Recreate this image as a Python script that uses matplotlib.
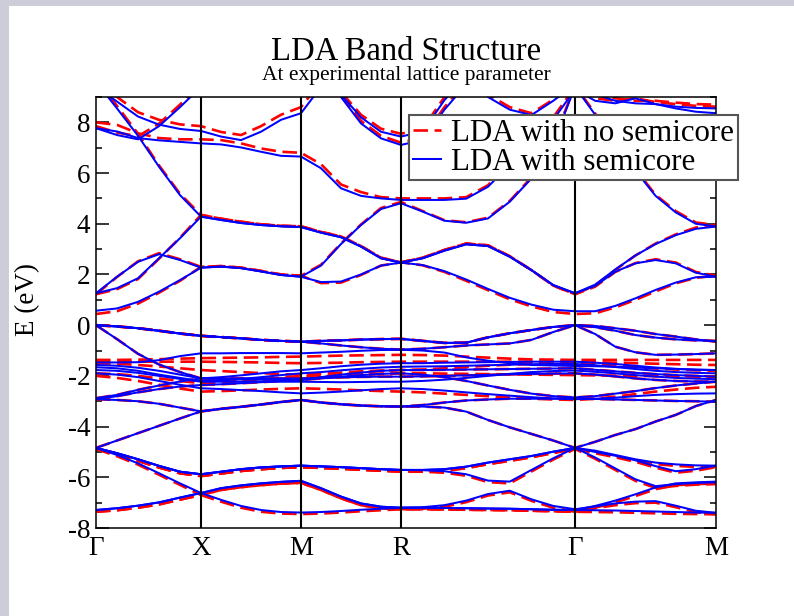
import numpy as np
import matplotlib.pyplot as plt
from matplotlib.lines import Line2D
from matplotlib.patches import Rectangle
from matplotlib.ticker import MultipleLocator

plt.rcParams['font.family'] = ['Liberation Serif', 'DejaVu Serif']
plt.rcParams['axes.unicode_minus'] = False

nan = np.nan

# k-path: high-symmetry points and number of steps on each segment
sym_labels = ['Γ', 'X', 'M', 'R', 'Γ', 'M']
sym_pos = [0.0, 0.52, 1.015, 1.51, 2.372, 3.07]
seg_steps = [5, 5, 5, 8, 7]

# ---- LDA with semicore (eV) ----
sc_v1 = [-7.29, -7.22, -7.12, -6.99, -6.80, -6.62,
         -6.89, -7.13, -7.29, -7.37, -7.39,
         -7.37, -7.33, -7.28, -7.24, -7.20,
         -7.20, -7.21, -7.22, -7.23, -7.24, -7.26, -7.28, -7.29,
         -7.30, -7.31, -7.33, -7.35, -7.37, -7.39, -7.40]
sc_v2 = [-4.84, -5.12, -5.45, -5.84, -6.24, -6.62,
         -6.43, -6.32, -6.24, -6.18, -6.14,
         -6.43, -6.76, -7.03, -7.16, -7.20,
         -7.18, -7.10, -6.92, -6.66, -6.53, -6.87, -7.13, -7.26,
         -7.15, -7.03, -6.96, -6.94, -7.12, -7.32, -7.40]
sc_v3 = [-7.29, -7.22, -7.12, -6.99, -6.80, -6.62,
         -6.43, -6.32, -6.24, -6.18, -6.14,
         -6.43, -6.76, -7.03, -7.16, -7.20,
         -7.20, -7.21, -7.22, -7.23, -7.24, -7.26, -7.28, -7.29,
         -7.13, -6.92, -6.67, -6.40, -6.24, -6.20, -6.17]
sc_v4 = [-4.84, -5.05, -5.29, -5.55, -5.78, -5.88,
         -5.78, -5.68, -5.61, -5.57, -5.54,
         -5.57, -5.60, -5.64, -5.68, -5.71,
         -5.72, -5.76, -5.88, -6.13, -6.17, -5.71, -5.25, -4.84,
         -5.22, -5.65, -6.08, -6.35, -6.27, -6.22, -6.20]
sc_v5 = [-4.84, -5.05, -5.29, -5.55, -5.78, -5.88,
         -5.78, -5.68, -5.61, -5.57, -5.54,
         -5.57, -5.60, -5.64, -5.68, -5.71,
         -5.71, -5.68, -5.58, -5.42, -5.29, -5.16, -4.99, -4.84,
         -5.00, -5.15, -5.33, -5.56, -5.76, -5.68, -5.54]
sc_v6 = [-4.84, -5.05, -5.29, -5.55, -5.78, -5.88,
         -5.78, -5.68, -5.61, -5.57, -5.54,
         -5.57, -5.60, -5.64, -5.68, -5.71,
         -5.71, -5.68, -5.58, -5.42, -5.29, -5.16, -4.99, -4.84,
         -4.95, -5.12, -5.29, -5.42, -5.49, -5.53, -5.54]
sc_v7 = [-4.84, -4.55, -4.26, -3.97, -3.68, -3.40,
         -3.30, -3.22, -3.13, -3.03, -2.95,
         -3.05, -3.12, -3.17, -3.20, -3.21,
         -3.21, -3.25, -3.41, -3.74, -4.03, -4.29, -4.55, -4.84,
         -4.60, -4.33, -4.10, -3.80, -3.54, -3.19, -2.95]

sc_d1 = [-1.47, -1.47, -1.46, -1.38, -1.22, -1.11,
         -1.11, -1.10, -1.10, -1.10, -1.11,
         -1.08, -1.05, -1.01, -0.98, -0.97,
         -1.00, -1.08, -1.27, -1.40, -1.50, -1.57, -1.59, -1.61,
         -1.62, -1.64, -1.67, -1.70, -1.73, -1.75, -1.77]
sc_d2 = [-1.57, -1.60, -1.68, -1.80, -1.95, -2.10,
         -2.05, -1.98, -1.90, -1.82, -1.77,
         -1.70, -1.62, -1.56, -1.52, -1.50,
         -1.50, -1.48, -1.47, -1.46, -1.45, -1.44, -1.44, -1.44,
         -1.48, -1.53, -1.60, -1.67, -1.72, -1.76, -1.77]
sc_d3 = [-1.66, -1.70, -1.80, -1.95, -2.08, -2.20,
         -2.18, -2.12, -2.05, -1.97, -1.90,
         -1.85, -1.78, -1.72, -1.67, -1.64,
         -1.63, -1.62, -1.60, -1.58, -1.56, -1.54, -1.53, -1.53,
         -1.58, -1.65, -1.73, -1.80, -1.85, -1.88, -1.90]
sc_d4 = [-1.77, -1.80, -1.88, -2.00, -2.12, -2.23,
         -2.23, -2.23, -2.23, -2.23, -2.23,
         -2.24, -2.25, -2.24, -2.23, -2.23,
         -2.20, -2.15, -2.08, -2.00, -1.92, -1.85, -1.81, -1.79,
         -1.84, -1.90, -1.97, -2.03, -2.08, -2.11, -2.13]
sc_d5 = [-1.90, -1.95, -2.05, -2.20, -2.35, -2.49,
         -2.52, -2.56, -2.60, -2.65, -2.69,
         -2.66, -2.62, -2.57, -2.52, -2.49,
         -2.52, -2.58, -2.65, -2.72, -2.78, -2.84, -2.89, -2.92,
         -2.90, -2.86, -2.80, -2.75, -2.72, -2.70, -2.69]
sc_d6 = [-2.88, -2.75, -2.55, -2.38, -2.22, -2.10,
         -2.12, -2.14, -2.15, -2.16, -2.16,
         -2.05, -1.95, -1.87, -1.80, -1.77,
         -1.77, -1.76, -1.75, -1.74, -1.73, -1.72, -1.71, -1.70,
         -1.76, -1.82, -1.88, -1.93, -1.97, -2.00, -2.03]
sc_d7 = [-2.92, -2.80, -2.65, -2.52, -2.42, -2.36,
         -2.33, -2.29, -2.25, -2.20, -2.16,
         -2.10, -2.03, -1.97, -1.92, -1.90,
         -1.95, -2.05, -2.20, -2.38, -2.55, -2.70, -2.80, -2.85,
         -2.80, -2.70, -2.60, -2.48, -2.38, -2.30, -2.23]
sc_d8 = [-2.92, -2.95, -3.00, -3.10, -3.25, -3.40,
         -3.30, -3.22, -3.13, -3.03, -2.95,
         -3.05, -3.12, -3.17, -3.20, -3.21,
         -3.15, -3.05, -2.97, -2.93, -2.90, -2.90, -2.90, -2.90,
         -2.91, -2.93, -2.95, -2.97, -2.99, -3.00, -3.02]

sc_t1 = [0.00, -0.05, -0.12, -0.22, -0.33, -0.42,
         -0.47, -0.52, -0.58, -0.62, -0.65,
         -0.62, -0.60, -0.57, -0.55, -0.54,
         -0.62, -0.70, -0.69, -0.48, -0.32, -0.19, -0.07, 0.00,
         -0.03, -0.12, -0.22, -0.35, -0.45, -0.56, -0.65]
sc_t2 = [0.00, -0.55, -1.13, -1.55, -1.85, -2.10,
         -2.10, -2.10, -2.10, -2.10, -2.10,
         -2.08, -2.06, -2.04, -2.03, -2.03,
         -2.02, -2.00, -1.98, -1.96, -1.94, -1.92, -1.91, -1.90,
         -1.95, -2.02, -2.10, -2.16, -2.20, -2.22, -2.23]
sc_t3 = [0.00, -0.05, -0.12, -0.22, -0.33, -0.42,
         -0.47, -0.52, -0.58, -0.62, -0.65,
         -0.72, -0.80, -0.87, -0.93, -0.96,
         -0.93, -0.87, -0.80, -0.76, -0.72, -0.58, -0.27, 0.00,
         -0.08, -0.22, -0.39, -0.49, -0.56, -0.60, -0.62]
sc_t4 = [0.00, -0.05, -0.12, -0.22, -0.33, -0.42,
         -0.47, -0.52, -0.58, -0.62, -0.65,
         -0.62, -0.60, -0.57, -0.55, -0.54,
         -0.62, -0.70, -0.69, -0.48, -0.32, -0.19, -0.07, 0.00,
         -0.35, -0.85, -1.07, -1.17, -1.16, -1.14, -1.11]

sc_c1 = [0.57, 0.66, 0.92, 1.32, 1.78, 2.27,
         2.31, 2.25, 2.12, 1.98, 1.91,
         1.70, 1.72, 2.00, 2.35, 2.47,
         2.37, 2.13, 1.80, 1.43, 1.08, 0.81, 0.61, 0.55,
         0.55, 0.76, 1.06, 1.39, 1.68, 1.89, 1.91]
sc_c2 = [1.26, 1.91, 2.50, 2.80, 2.57, 2.27,
         2.31, 2.25, 2.12, 1.98, 1.91,
         2.35, 3.20, 3.95, 4.58, 4.81,
         4.48, 4.12, 4.04, 4.21, 4.87, 5.79, 7.20, 9.40,
         8.30, 7.30, 6.10, 5.10, 4.45, 4.00, 3.89]
sc_c3 = [1.26, 1.46, 1.85, 2.64, 3.43, 4.28,
         4.15, 4.03, 3.95, 3.90, 3.87,
         3.65, 3.47, 3.10, 2.64, 2.47,
         2.64, 2.94, 3.19, 3.12, 2.70, 2.17, 1.58, 1.26,
         1.55, 2.11, 2.44, 2.57, 2.44, 2.07, 1.91]
sc_c4 = [9.60, 8.55, 7.47, 6.25, 5.13, 4.28,
         4.15, 4.03, 3.95, 3.90, 3.87,
         3.65, 3.47, 3.10, 2.64, 2.47,
         2.64, 2.94, 3.19, 3.12, 2.70, 2.17, 1.58, 1.26,
         1.60, 2.20, 2.75, 3.20, 3.55, 3.80, 3.89]
sc_c5 = [7.77, 7.64, 7.38, 7.29, 7.23, 7.17,
         7.13, 7.01, 6.84, 6.68, 6.65,
         6.19, 5.40, 5.10, 5.00, 4.94,
         4.94, 4.94, 4.99, 5.46, 6.32, 7.20, 8.10, 9.30,
         8.85, 8.75, 8.95, 8.72, 8.55, 8.42, 8.36]
sc_c6 = [7.77, 7.50, 7.33, 7.85, 8.60, 9.40] + [nan] * 25
sc_c7 = [9.40, 8.82, 8.23, 7.91, 7.74, 7.66,
         7.44, 7.30, 7.63, 8.10, 8.36, 9.40] + [nan] * 19
sc_c8 = [nan] * 11 + [10.5, 9.10, 8.20, 7.63, 7.44, 7.63, 8.88, 9.80] + [nan] * 12
sc_c9 = [nan] * 11 + [10.4, 9.00, 7.96, 7.37, 7.11, 7.30, 8.50, 9.50] + [nan] * 12
sc_c10 = [nan] * 18 + [9.80, 9.00, 8.50, 8.29, 8.85, 9.50,
                       9.10, 8.85, 8.75, 8.72, 8.62, 8.57, 8.55]

# ---- LDA without semicore (eV) ----
nsc_v1 = [-7.36, -7.30, -7.20, -7.07, -6.88, -6.70,
          -6.96, -7.20, -7.36, -7.43, -7.45,
          -7.43, -7.39, -7.34, -7.30, -7.26,
          -7.26, -7.27, -7.28, -7.29, -7.30, -7.32, -7.34, -7.36,
          -7.37, -7.38, -7.40, -7.42, -7.44, -7.45, -7.46]
nsc_v2 = [-4.88, -5.17, -5.50, -5.90, -6.30, -6.70,
          -6.50, -6.39, -6.31, -6.25, -6.22,
          -6.50, -6.83, -7.10, -7.22, -7.26,
          -7.24, -7.16, -6.98, -6.72, -6.59, -6.93, -7.20, -7.36,
          -7.22, -7.10, -7.02, -7.00, -7.18, -7.38, -7.46]
nsc_v3 = [-7.36, -7.30, -7.20, -7.07, -6.88, -6.70,
          -6.50, -6.39, -6.31, -6.25, -6.22,
          -6.50, -6.83, -7.10, -7.22, -7.26,
          -7.26, -7.27, -7.28, -7.29, -7.30, -7.32, -7.34, -7.36,
          -7.20, -6.99, -6.74, -6.47, -6.31, -6.27, -6.24]
nsc_v4 = [-4.88, -5.10, -5.35, -5.61, -5.84, -5.95,
          -5.85, -5.75, -5.68, -5.63, -5.60,
          -5.63, -5.66, -5.70, -5.74, -5.77,
          -5.78, -5.82, -5.94, -6.19, -6.24, -5.77, -5.30, -4.88,
          -5.27, -5.71, -6.14, -6.42, -6.34, -6.29, -6.27]
nsc_v5 = [-4.88, -5.10, -5.35, -5.61, -5.84, -5.95,
          -5.85, -5.75, -5.68, -5.63, -5.60,
          -5.63, -5.66, -5.70, -5.74, -5.77,
          -5.77, -5.74, -5.64, -5.48, -5.35, -5.21, -5.04, -4.88,
          -5.05, -5.21, -5.39, -5.62, -5.82, -5.74, -5.60]
nsc_v6 = [-4.88, -5.10, -5.35, -5.61, -5.84, -5.95,
          -5.85, -5.75, -5.68, -5.63, -5.60,
          -5.63, -5.66, -5.70, -5.74, -5.77,
          -5.77, -5.74, -5.64, -5.48, -5.35, -5.21, -5.04, -4.88,
          -4.99, -5.17, -5.35, -5.48, -5.55, -5.59, -5.60]

nsc_d1 = [-1.37, -1.37, -1.36, -1.34, -1.32, -1.30,
          -1.29, -1.28, -1.27, -1.25, -1.24,
          -1.22, -1.20, -1.19, -1.18, -1.17,
          -1.18, -1.20, -1.24, -1.28, -1.32, -1.35, -1.36, -1.37,
          -1.37, -1.37, -1.37, -1.37, -1.37, -1.37, -1.37]
nsc_d2 = [-1.44, -1.44, -1.44, -1.44, -1.44, -1.44,
          -1.45, -1.46, -1.47, -1.49, -1.50,
          -1.49, -1.48, -1.46, -1.45, -1.44,
          -1.44, -1.44, -1.44, -1.44, -1.44, -1.44, -1.44, -1.44,
          -1.46, -1.48, -1.50, -1.52, -1.54, -1.56, -1.57]
nsc_d3 = [-1.50, -1.52, -1.57, -1.63, -1.70, -1.77,
          -1.81, -1.85, -1.89, -1.93, -1.96,
          -1.92, -1.87, -1.82, -1.79, -1.77,
          -1.75, -1.70, -1.65, -1.60, -1.56, -1.53, -1.51, -1.50,
          -1.54, -1.60, -1.66, -1.71, -1.75, -1.78, -1.80]
nsc_d4 = [-1.90, -1.93, -2.00, -2.10, -2.20, -2.29,
          -2.25, -2.19, -2.13, -2.07, -2.03,
          -2.00, -1.97, -1.94, -1.92, -1.90,
          -1.90, -1.91, -1.92, -1.93, -1.94, -1.95, -1.96, -1.97,
          -1.98, -1.99, -2.00, -2.01, -2.02, -2.03, -2.03]
nsc_d5 = [-2.00, -2.08, -2.20, -2.35, -2.50, -2.62,
          -2.60, -2.57, -2.54, -2.51, -2.49,
          -2.51, -2.54, -2.57, -2.60, -2.62,
          -2.65, -2.70, -2.75, -2.80, -2.85, -2.90, -2.93, -2.95,
          -2.90, -2.82, -2.72, -2.62, -2.54, -2.47, -2.43]

nsc_c1 = [0.44, 0.55, 0.85, 1.28, 1.75, 2.30,
          2.33, 2.27, 2.14, 2.00, 1.95,
          1.66, 1.68, 1.98, 2.35, 2.48,
          2.36, 2.10, 1.75, 1.38, 1.02, 0.74, 0.52, 0.44,
          0.47, 0.70, 1.00, 1.33, 1.65, 1.87, 1.95]
nsc_c2 = [1.22, 1.90, 2.52, 2.84, 2.60, 2.30,
          2.33, 2.27, 2.14, 2.00, 1.95,
          2.38, 3.22, 3.97, 4.62, 4.86,
          4.50, 4.14, 4.06, 4.24, 4.90, 5.83, 7.25, 9.45,
          8.35, 7.35, 6.15, 5.14, 4.50, 4.05, 3.95]
nsc_c3 = [1.22, 1.42, 1.82, 2.62, 3.45, 4.35,
          4.20, 4.08, 3.98, 3.92, 3.90,
          3.68, 3.50, 3.12, 2.66, 2.48,
          2.66, 2.97, 3.22, 3.15, 2.72, 2.17, 1.56, 1.22,
          1.52, 2.10, 2.45, 2.60, 2.47, 2.10, 1.95]
nsc_c4 = [9.70, 8.65, 7.55, 6.30, 5.18, 4.35,
          4.20, 4.08, 3.98, 3.92, 3.90,
          3.68, 3.50, 3.12, 2.66, 2.48,
          2.66, 2.97, 3.22, 3.15, 2.72, 2.17, 1.56, 1.22,
          1.57, 2.18, 2.75, 3.22, 3.58, 3.85, 3.95]
nsc_c5 = [8.00, 7.90, 7.57, 7.38, 7.33, 7.33,
          7.30, 7.17, 6.97, 6.84, 6.80,
          6.35, 5.55, 5.25, 5.05, 5.00,
          5.00, 5.00, 5.05, 5.52, 6.40, 7.30, 8.20, 9.40,
          8.95, 8.85, 8.95, 8.80, 8.72, 8.65, 8.62]
nsc_c6 = [7.85, 7.60, 7.45, 7.95, 8.70, 9.50] + [nan] * 25
nsc_c7 = [9.50, 9.00, 8.40, 8.10, 7.92, 7.85,
          7.62, 7.50, 7.85, 8.30, 8.60, 9.60] + [nan] * 19
nsc_c8 = [nan] * 11 + [10.6, 9.20, 8.30, 7.75, 7.55, 7.75, 9.00, 9.90] + [nan] * 12
nsc_c9 = [nan] * 11 + [10.5, 9.10, 8.06, 7.47, 7.20, 7.40, 8.60, 9.60] + [nan] * 12
nsc_c10 = [nan] * 18 + [9.85, 9.10, 8.60, 8.36, 8.90, 9.50,
                        9.15, 8.95, 8.85, 8.85, 8.78, 8.72, 8.70]

semicore = [sc_v1, sc_v2, sc_v3, sc_v4, sc_v5, sc_v6, sc_v7,
            sc_d1, sc_d2, sc_d3, sc_d4, sc_d5, sc_d6, sc_d7, sc_d8,
            sc_t1, sc_t2, sc_t3, sc_t4,
            sc_c1, sc_c2, sc_c3, sc_c4, sc_c5, sc_c6, sc_c7, sc_c8, sc_c9, sc_c10]
no_semicore = [nsc_v1, nsc_v2, nsc_v3, nsc_v4, nsc_v5, nsc_v6, sc_v7,
               nsc_d1, nsc_d2, nsc_d3, nsc_d4, nsc_d5, sc_d6, sc_d7, sc_d8,
               sc_t1, sc_t2, sc_t3, sc_t4,
               nsc_c1, nsc_c2, nsc_c3, nsc_c4, nsc_c5, nsc_c6, nsc_c7, nsc_c8, nsc_c9, nsc_c10]

# k-points along the path
kx = np.concatenate([np.linspace(sym_pos[i], sym_pos[i + 1], n + 1)[(1 if i else 0):]
                     for i, n in enumerate(seg_steps)])

fig = plt.figure(figsize=(7.94, 6.16), dpi=100)
frame_col = '#cdcdda'
fig.patches.append(Rectangle((0, 0), 9 / 794, 1, transform=fig.transFigure,
                             facecolor=frame_col, edgecolor='none', zorder=0))
fig.patches.append(Rectangle((0, 1 - 6 / 616), 1, 6 / 616, transform=fig.transFigure,
                             facecolor=frame_col, edgecolor='none', zorder=0))

ax = fig.add_axes([96 / 794, 88 / 616, 620 / 794, 431 / 616])

for band in no_semicore:
    ax.plot(kx, band, color='red', lw=1.9, dashes=(5.5, 2.5), zorder=2)
for band in semicore:
    ax.plot(kx, band, color='blue', lw=1.45, zorder=2.5)
for x in sym_pos[1:-1]:
    ax.axvline(x, color='black', lw=1.5, zorder=3)

ax.set_xlim(sym_pos[0], sym_pos[-1])
ax.set_ylim(-8, 9)
ax.set_xticks(sym_pos, sym_labels)
ax.tick_params(axis='x', length=0, pad=6, labelsize=19.5)
ax.yaxis.set_major_locator(MultipleLocator(2))
ax.yaxis.set_minor_locator(MultipleLocator(1))
ax.tick_params(axis='y', which='both', direction='in', left=True, right=True,
               labelsize=19.5, pad=4, width=1.1)
ax.tick_params(axis='y', which='major', length=9)
ax.tick_params(axis='y', which='minor', length=4.5)
for sp in ax.spines.values():
    sp.set_linewidth(1.1)

ax.set_ylabel('E (eV)', fontsize=19.5)
ax.yaxis.set_label_coords(-0.09, 0.53)

fig.text(406 / 794, 1 - 60 / 616, 'LDA Band Structure', ha='center', va='baseline', fontsize=23.5)
fig.text(406 / 794, 1 - 80 / 616, 'At experimental lattice parameter', ha='center',
         va='baseline', fontsize=15.5)

handles = [Line2D([], [], color='red', lw=1.9, dashes=(5.5, 2.5)),
           Line2D([], [], color='blue', lw=1.45)]
leg = ax.legend(handles, ['LDA with no semicore', 'LDA with semicore'],
                loc='upper left', bbox_to_anchor=(409 / 794, 1 - 115 / 616),
                bbox_transform=fig.transFigure, fontsize=22.3, frameon=True,
                fancybox=False, framealpha=1, edgecolor='#555555',
                handlelength=0.9, handletextpad=0.35, borderpad=0.12,
                labelspacing=0.0, borderaxespad=0)
leg.get_frame().set_linewidth(1.5)
leg.set_zorder(5)

fig.savefig('out.png', dpi=100, facecolor='white')
